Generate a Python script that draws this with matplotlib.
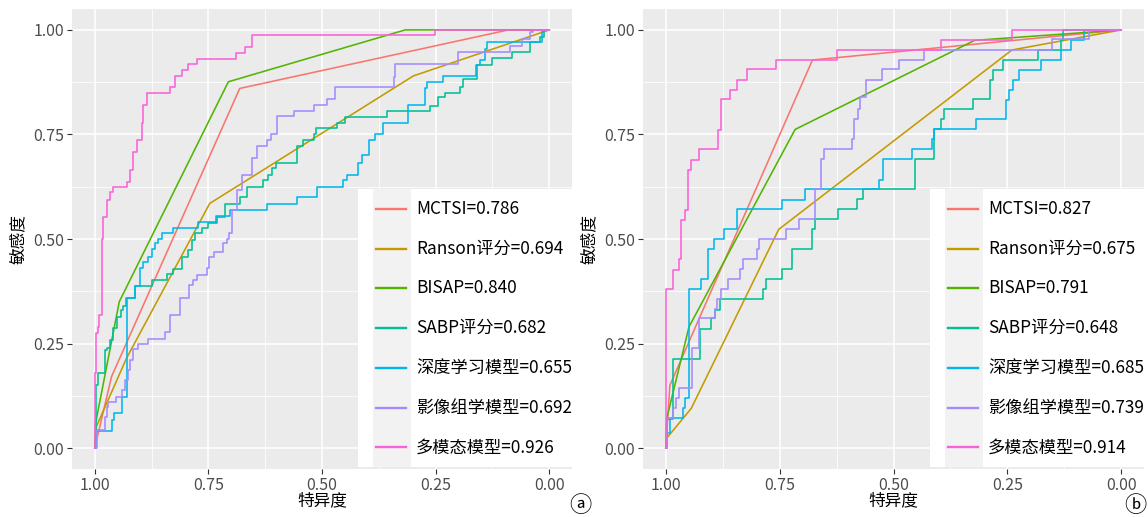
import matplotlib
matplotlib.use('Agg')
import matplotlib.pyplot as plt
from matplotlib.legend_handler import HandlerBase
from matplotlib.patches import Rectangle
from matplotlib.lines import Line2D

plt.rcParams['font.family'] = ['Noto Sans CJK SC', 'DejaVu Sans']

# series names, ggplot hue colours, and whether the curve is a step ROC
names = ['MCTSI', 'Ranson评分', 'BISAP', 'SABP评分', '深度学习模型', '影像组学模型', '多模态模型']
colors = ['#F8766D', '#C49A00', '#53B400', '#00C094', '#00B6EB', '#A58AFF', '#FB61D7']
is_step = [False, False, False, True, True, True, True]

auc_a = [0.786, 0.694, 0.840, 0.682, 0.655, 0.692, 0.926]
auc_b = [0.827, 0.675, 0.791, 0.648, 0.685, 0.739, 0.914]

# ---- panel a : (specificity, sensitivity) points
a_mctsi_spec = [1.0, 0.963, 0.681, 0.09, 0.0]
a_mctsi_sens = [0.0, 0.171, 0.86, 1.0, 1.0]

a_ranson_spec = [1.0, 0.997, 0.93, 0.747, 0.299, 0.0]
a_ranson_sens = [0.0, 0.05, 0.215, 0.585, 0.89, 1.0]

a_bisap_spec = [1.0, 0.998, 0.946, 0.706, 0.317, 0.0]
a_bisap_sens = [0.0, 0.06, 0.35, 0.876, 1.0, 1.0]

a_sabp_spec = [1.0, 0.998, 0.993, 0.978, 0.972, 0.967, 0.960, 0.952, 0.942, 0.938, 0.932, 0.912,
               0.875, 0.841, 0.828, 0.807, 0.794, 0.787, 0.780, 0.765, 0.750, 0.732, 0.714, 0.681,
               0.666, 0.629, 0.618, 0.611, 0.601, 0.554, 0.541, 0.518, 0.513, 0.468, 0.449, 0.357,
               0.262, 0.244, 0.229, 0.196, 0.190, 0.159, 0.126, 0.082, 0.042, 0.020, 0.012, 0.0]
a_sabp_sens = [0.0, 0.15, 0.179, 0.234, 0.24, 0.258, 0.287, 0.314, 0.33, 0.34, 0.358, 0.388,
               0.402, 0.416, 0.428, 0.458, 0.474, 0.498, 0.514, 0.526, 0.538, 0.553, 0.584, 0.601,
               0.625, 0.641, 0.653, 0.67, 0.682, 0.722, 0.737, 0.751, 0.765, 0.778, 0.791, 0.807,
               0.818, 0.84, 0.85, 0.863, 0.882, 0.916, 0.932, 0.948, 0.97, 0.984, 1.0, 1.0]

a_dl_spec = [1.0, 0.998, 0.961, 0.958, 0.941, 0.930, 0.912, 0.901, 0.894, 0.883, 0.875, 0.868,
             0.861, 0.853, 0.828, 0.772, 0.734, 0.703, 0.622, 0.556, 0.512, 0.453, 0.446, 0.420,
             0.413, 0.397, 0.383, 0.365, 0.310, 0.273, 0.269, 0.233, 0.161, 0.152, 0.141, 0.137,
             0.016, 0.0]
a_dl_sens = [0.0, 0.041, 0.067, 0.083, 0.123, 0.358, 0.388, 0.43, 0.446, 0.458, 0.475, 0.49,
             0.499, 0.514, 0.527, 0.541, 0.556, 0.569, 0.584, 0.601, 0.625, 0.641, 0.653, 0.681,
             0.701, 0.737, 0.751, 0.778, 0.821, 0.86, 0.876, 0.889, 0.916, 0.928, 0.954, 0.972,
             1.0, 1.0]

a_rad_spec = [1.0, 0.996, 0.978, 0.973, 0.971, 0.954, 0.941, 0.934, 0.927, 0.923, 0.916, 0.905,
              0.883, 0.846, 0.835, 0.813, 0.792, 0.783, 0.776, 0.753, 0.748, 0.738, 0.717, 0.710,
              0.704, 0.699, 0.688, 0.677, 0.655, 0.644, 0.620, 0.613, 0.598, 0.562, 0.517, 0.490,
              0.471, 0.341, 0.339, 0.200, 0.086, 0.060, 0.042, 0.035, 0.0]
a_rad_sens = [0.0, 0.043, 0.075, 0.099, 0.111, 0.123, 0.139, 0.163, 0.187, 0.211, 0.236, 0.249,
              0.262, 0.278, 0.318, 0.360, 0.39, 0.402, 0.414, 0.43, 0.458, 0.47, 0.49, 0.499,
              0.514, 0.569, 0.617, 0.653, 0.693, 0.722, 0.737, 0.751, 0.793, 0.807, 0.82, 0.834,
              0.863, 0.887, 0.918, 0.946, 0.962, 0.978, 0.994, 1.0, 1.0]

a_multi_spec = [1.0, 1.0, 0.997, 0.993, 0.990, 0.985, 0.982, 0.974, 0.967, 0.960, 0.930, 0.923,
                0.916, 0.907, 0.897, 0.894, 0.885, 0.835, 0.824, 0.809, 0.794, 0.776, 0.689,
                0.670, 0.655, 0.251, 0.0]
a_multi_sens = [0.0, 0.18, 0.275, 0.29, 0.318, 0.5, 0.553, 0.593, 0.612, 0.625, 0.637, 0.665,
                0.708, 0.737, 0.777, 0.82, 0.849, 0.863, 0.89, 0.904, 0.919, 0.93, 0.944,
                0.959, 0.988, 1.0, 1.0]

# ---- panel b
b_mctsi_spec = [1.0, 0.991, 0.678, 0.0]
b_mctsi_sens = [0.0, 0.15, 0.928, 1.0]

b_ranson_spec = [1.0, 0.997, 0.944, 0.752, 0.24, 0.0]
b_ranson_sens = [0.0, 0.025, 0.095, 0.523, 0.952, 1.0]

b_bisap_spec = [1.0, 0.998, 0.949, 0.716, 0.322, 0.0]
b_bisap_sens = [0.0, 0.07, 0.29, 0.762, 0.975, 1.0]

b_sabp_spec = [1.0, 0.998, 0.985, 0.925, 0.900, 0.893, 0.882, 0.787, 0.779, 0.744, 0.722, 0.678,
               0.673, 0.622, 0.580, 0.567, 0.453, 0.410, 0.395, 0.390, 0.326, 0.289, 0.282, 0.260,
               0.183, 0.132, 0.127, 0.0]
b_sabp_sens = [0.0, 0.07, 0.212, 0.284, 0.31, 0.33, 0.356, 0.38, 0.404, 0.428, 0.475, 0.523,
               0.547, 0.571, 0.595, 0.619, 0.691, 0.762, 0.786, 0.81, 0.834, 0.88, 0.904, 0.928,
               0.952, 0.976, 1.0, 1.0]

b_dl_spec = [1.0, 0.998, 0.990, 0.963, 0.958, 0.949, 0.922, 0.907, 0.894, 0.872, 0.844, 0.744,
             0.694, 0.531, 0.523, 0.459, 0.415, 0.410, 0.319, 0.253, 0.246, 0.238, 0.225, 0.176,
             0.132, 0.110, 0.081, 0.0]
b_dl_sens = [0.0, 0.035, 0.071, 0.095, 0.119, 0.38, 0.404, 0.475, 0.501, 0.523, 0.571, 0.594,
             0.619, 0.641, 0.691, 0.715, 0.739, 0.762, 0.786, 0.833, 0.856, 0.88, 0.904, 0.928,
             0.952, 0.976, 1.0, 1.0]

b_rad_spec = [1.0, 0.997, 0.984, 0.978, 0.971, 0.942, 0.927, 0.893, 0.887, 0.878, 0.863, 0.836,
              0.830, 0.800, 0.795, 0.737, 0.708, 0.673, 0.659, 0.652, 0.591, 0.586, 0.578, 0.573,
              0.560, 0.525, 0.488, 0.432, 0.151, 0.070, 0.0]
b_rad_sens = [0.0, 0.071, 0.095, 0.119, 0.143, 0.239, 0.31, 0.332, 0.356, 0.38, 0.404, 0.428,
              0.451, 0.475, 0.499, 0.523, 0.547, 0.619, 0.691, 0.715, 0.739, 0.786, 0.81, 0.84,
              0.88, 0.906, 0.928, 0.952, 0.978, 1.0, 1.0]

b_multi_spec = [1.0, 0.999, 0.985, 0.971, 0.966, 0.958, 0.951, 0.944, 0.927, 0.885, 0.878, 0.858,
                0.844, 0.822, 0.757, 0.625, 0.395, 0.240, 0.0]
b_multi_sens = [0.0, 0.38, 0.426, 0.451, 0.545, 0.569, 0.665, 0.689, 0.715, 0.761, 0.834, 0.856,
                0.88, 0.906, 0.928, 0.952, 0.976, 1.0, 1.0]

curves_a = [(a_mctsi_spec, a_mctsi_sens), (a_ranson_spec, a_ranson_sens), (a_bisap_spec, a_bisap_sens),
            (a_sabp_spec, a_sabp_sens), (a_dl_spec, a_dl_sens), (a_rad_spec, a_rad_sens),
            (a_multi_spec, a_multi_sens)]
curves_b = [(b_mctsi_spec, b_mctsi_sens), (b_ranson_spec, b_ranson_sens), (b_bisap_spec, b_bisap_sens),
            (b_sabp_spec, b_sabp_sens), (b_dl_spec, b_dl_sens), (b_rad_spec, b_rad_sens),
            (b_multi_spec, b_multi_sens)]

tick_vals = [0.0, 0.25, 0.5, 0.75, 1.0]
tick_labels = ['0.00', '0.25', '0.50', '0.75', '1.00']
minor_vals = [0.125, 0.375, 0.625, 0.875]

PANEL_BG = '#EBEBEB'
KEY_BG = '#F2F2F2'


class KeyHandler(HandlerBase):
    # ggplot style legend key: grey block with a short line in it
    def create_artists(self, legend, orig_handle, xdescent, ydescent, width, height, fontsize, trans):
        x0, y0 = -xdescent, -ydescent
        bg = Rectangle((x0 + 10.6, y0), width - 10.6, height, facecolor=KEY_BG,
                       edgecolor='none', transform=trans)
        ym = y0 + height / 2
        ln = Line2D([x0 + 13.0, x0 + width - 3.6], [ym, ym], color=orig_handle.get_color(),
                    lw=1.7, transform=trans)
        return [bg, ln]


def draw_panel(ax, curves, aucs):
    ax.set_facecolor(PANEL_BG)
    handles = []
    for name, clr, step, (spec, sens), auc in zip(names, colors, is_step, curves, aucs):
        h, = ax.plot(spec, sens, color=clr, lw=1.15,
                     drawstyle='steps-post' if step else 'default',
                     label=f'{name}={auc:.3f}')
        handles.append(h)

    ax.set_xlim(1.05, -0.05)
    ax.set_ylim(-0.05, 1.05)
    ax.set_xticks(tick_vals, tick_labels)
    ax.set_yticks(tick_vals, tick_labels)
    ax.set_xticks(minor_vals, minor=True)
    ax.set_yticks(minor_vals, minor=True)
    ax.grid(which='major', color='white', lw=1.1)
    ax.grid(which='minor', color='white', lw=0.55)
    ax.set_axisbelow(True)
    for s in ax.spines.values():
        s.set_visible(False)
    ax.tick_params(which='major', length=3.5, width=0.8, color='#333333',
                   labelcolor='#4D4D4D', labelsize=11.5, pad=2)
    ax.tick_params(which='minor', length=0)

    ax.set_xlabel('特异度', fontsize=12)
    ax.xaxis.set_label_coords(0.5, -0.05)
    ax.set_ylabel('敏感度', fontsize=12)
    ax.yaxis.set_label_coords(-0.09, 0.5)

    leg = ax.legend(handles=handles, loc='lower right', bbox_to_anchor=(1.0, 0.004),
                    borderaxespad=0, borderpad=0, fontsize=12.4, handlelength=3.08,
                    handleheight=3.17, handletextpad=0.29, labelspacing=0,
                    frameon=True, fancybox=False, framealpha=1,
                    handler_map={Line2D: KeyHandler()})
    leg.get_frame().set_facecolor('white')
    leg.get_frame().set_edgecolor('none')


fig = plt.figure(figsize=(11.48, 5.17), dpi=100)
ax_a = fig.add_axes([72 / 1148, 48 / 517, 500 / 1148, 460 / 517])
ax_b = fig.add_axes([643 / 1148, 48 / 517, 501 / 1148, 460 / 517])

draw_panel(ax_a, curves_a, auc_a)
draw_panel(ax_b, curves_b, auc_b)

fig.text(580 / 1148, 1 - 505 / 517, 'ⓐ', fontsize=16, ha='center', va='center')
fig.text(1135 / 1148, 1 - 505 / 517, 'ⓑ', fontsize=16, ha='center', va='center')

fig.savefig('out.png', dpi=100)
